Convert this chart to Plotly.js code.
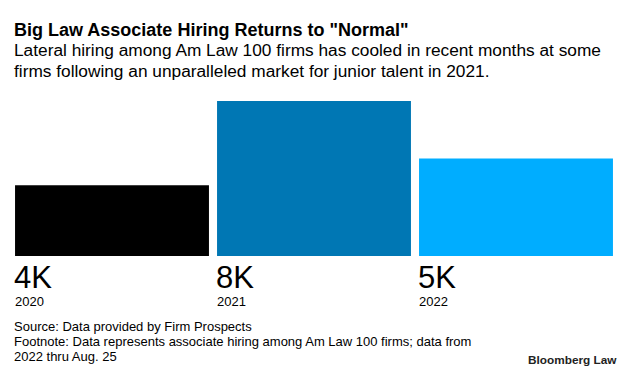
<!DOCTYPE html>
<html>
<head>
<meta charset="utf-8">
<script src="https://cdn.plot.ly/plotly-3.0.1.min.js"></script>
<style>
html,body{margin:0;padding:0;background:#fff;}
#chart{width:633px;height:374px;}
</style>
</head>
<body>
<div id="chart"></div>
<script>
// Data (thousands of lateral associate hires)
const years = ["2020", "2021", "2022"];
const hires = [3.7, 8.1, 5.1];
const colors = ["#000000", "#0077B4", "#00ADFF"];

const W = 633, H = 374;
const M = {l: 11, r: 16, t: 101, b: 118};
const FONT = "Liberation Sans, Arial, Helvetica, sans-serif";

const pw = W - M.l - M.r, ph = H - M.t - M.b;
const px = X => (X - M.l) / pw;
const py = Y => (H - M.b - Y) / ph;

const annotations = [];
function txt(text, X, Y, size, opts) {
  annotations.push(Object.assign({
    text: text, xref: "paper", yref: "paper", x: px(X), y: py(Y),
    xanchor: "left", yanchor: "middle", showarrow: false, align: "left",
    font: {family: FONT, size: size, color: "#000"}
  }, opts || {}));
}

txt("<b>Big Law Associate Hiring Returns to \"Normal\"</b>", 12, 30, 18);
txt("Lateral hiring among Am Law 100 firms has cooled in recent months at some", 12, 50.5, 17.3);
txt("firms following an unparalleled market for junior talent in 2021.", 12, 71.5, 17.3);

const idx = years.map((y, i) => i);
idx.forEach(i => {
  annotations.push({
    text: Math.round(hires[i]) + "K", xref: "x", yref: "paper", x: i - 0.48, y: py(277),
    xanchor: "left", yanchor: "middle", xshift: -3, showarrow: false,
    font: {family: FONT, size: 31, color: "#000"}
  });
  annotations.push({
    text: years[i], xref: "x", yref: "paper", x: i - 0.48, y: py(301.5),
    xanchor: "left", yanchor: "middle", xshift: -2, showarrow: false,
    font: {family: FONT, size: 13, color: "#000"}
  });
});

txt("Source: Data provided by Firm Prospects", 12, 326.5, 13);
txt("Footnote: Data represents associate hiring among Am Law 100 firms; data from", 12, 341.5, 13);
txt("2022 thru Aug. 25", 12, 356.5, 13);
txt("<b>Bloomberg Law</b>", 619, 360, 11.8, {xanchor: "right", font: {family: FONT, size: 11.8, color: "#222"}});

const data = [{
  type: "bar",
  x: idx,
  y: hires,
  marker: {color: colors, line: {width: 0}},
  hoverinfo: "none"
}];

const layout = {
  width: W, height: H,
  margin: M,
  paper_bgcolor: "#fff", plot_bgcolor: "#fff",
  bargap: 0.04,
  showlegend: false,
  xaxis: {visible: false, range: [-0.5, 2.5]},
  yaxis: {visible: false, range: [0, 8.1]},
  annotations: annotations
};

Plotly.newPlot("chart", data, layout, {displayModeBar: false, staticPlot: true});
</script>
</body>
</html>
